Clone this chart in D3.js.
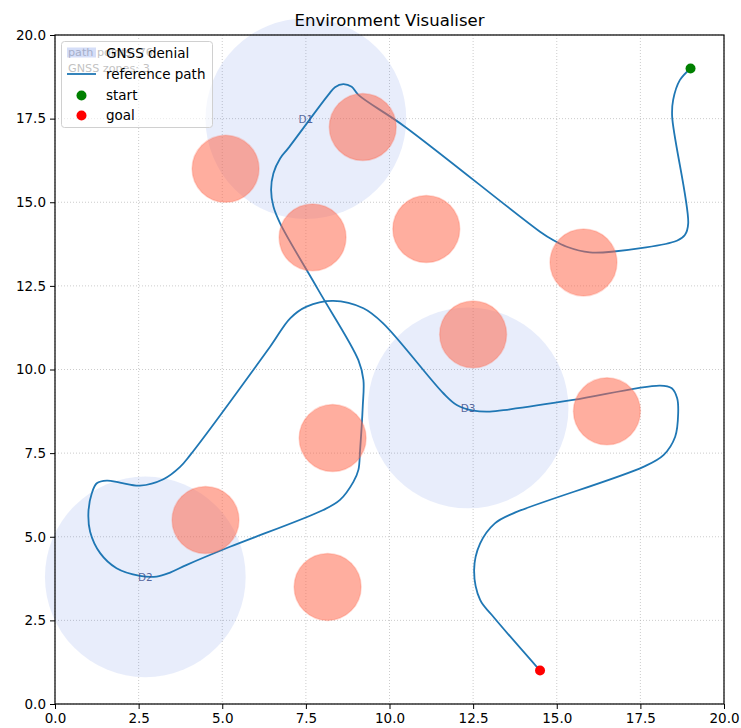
<!DOCTYPE html>
<html lang="en">
<head>
<meta charset="utf-8">
<title>Environment Visualiser</title>
<script src="https://d3js.org/d3.v7.min.js"></script>
<style>
  body { margin: 0; background: #fff; }
  text { font-family: "DejaVu Sans", sans-serif; }
</style>
</head>
<body>
<script>
// obstacles (radius 1)
var obstacleX = [9.2, 5.1, 7.7, 11.1, 15.8, 12.5, 16.5, 8.3, 4.5, 8.15];
var obstacleY = [17.25, 16.0, 13.95, 14.2, 13.2, 11.05, 8.75, 7.95, 5.5, 3.5];
var obstacleR = [1, 1, 1, 1, 1, 1, 1, 1, 1, 1];

// GNSS denial zones
var zoneNames = ["D1", "D2", "D3"];
var zoneX = [7.5, 2.7, 12.35];
var zoneY = [17.5, 3.8, 8.85];
var zoneR = [3, 3, 3];

var start = [19, 19];
var goal = [14.5, 1.0];

// reference path
var pathX = [19.0, 18.68, 18.48, 18.45, 18.93, 18.83, 18.59, 16.64, 15.99, 15.30, 14.89, 14.50,
  10.46, 9.07, 8.87, 8.62, 8.37, 8.17, 6.97, 6.73, 6.53, 6.46, 6.53, 6.73, 7.87, 9.07, 9.22,
  9.20, 9.12, 9.07, 8.92, 8.52, 8.02, 5.23, 3.94, 3.44, 3.04, 2.54, 1.84, 1.35, 1.05, 1.00,
  1.10, 1.25, 1.55, 1.94, 2.54, 3.24, 3.74, 4.04, 6.43, 7.03, 7.52, 8.32, 9.22, 9.81, 11.61,
  12.01, 12.51, 13.00, 13.60, 15.49, 18.09, 18.44, 18.60, 18.63, 18.54, 18.19, 17.59, 13.70,
  13.15, 12.71, 12.53, 12.71, 13.06, 14.50];
var pathY = [19.0, 18.65, 18.06, 17.56, 14.37, 14.02, 13.85, 13.52, 13.50, 13.67, 13.87, 14.12,
  17.26, 18.21, 18.45, 18.53, 18.44, 18.21, 16.61, 16.31, 15.87, 15.37, 14.87, 14.37, 12.38,
  10.28, 9.69, 8.89, 7.59, 7.00, 6.64, 6.10, 5.80, 4.70, 4.16, 3.93, 3.81, 3.83, 4.06, 4.51,
  5.15, 5.75, 6.30, 6.60, 6.68, 6.62, 6.53, 6.72, 7.09, 7.44, 10.68, 11.53, 11.88, 12.05, 11.83,
  11.38, 9.29, 8.94, 8.77, 8.74, 8.81, 9.09, 9.52, 9.44, 9.14, 8.69, 7.99, 7.44, 7.09, 5.70,
  5.40, 4.80, 4.01, 3.11, 2.66, 1.0];

var ticks = [0, 2.5, 5, 7.5, 10, 12.5, 15, 17.5, 20];

var W = 741, H = 728;
var axL = 55, axR = 724, axT = 35, axB = 704;

var svg = d3.select("body").append("svg")
    .attr("width", W).attr("height", H);

var x = d3.scaleLinear().domain([0, 20]).range([axL, axR]);
var y = d3.scaleLinear().domain([0, 20]).range([axB, axT]);

// grid
var grid = svg.append("g");
grid.selectAll(".gx").data(ticks).join("line")
    .attr("x1", d => x(d)).attr("x2", d => x(d))
    .attr("y1", axT).attr("y2", axB)
    .attr("stroke", "#b0b0b0").attr("stroke-width", 0.8)
    .attr("stroke-dasharray", "1,2").attr("opacity", 0.8);
grid.selectAll(".gy").data(ticks).join("line")
    .attr("y1", d => y(d)).attr("y2", d => y(d))
    .attr("x1", axL).attr("x2", axR)
    .attr("stroke", "#b0b0b0").attr("stroke-width", 0.8)
    .attr("stroke-dasharray", "1,2").attr("opacity", 0.8);

// zones
var zones = zoneNames.map((n, i) => ({name: n, x: zoneX[i], y: zoneY[i], r: zoneR[i]}));
svg.append("g").selectAll("circle").data(zones).join("circle")
    .attr("cx", d => x(d.x)).attr("cy", d => y(d.y))
    .attr("r", d => x(d.r) - x(0))
    .attr("fill", "#4169e1").attr("fill-opacity", 0.12);

// path
var pts = pathX.map((v, i) => [v, pathY[i]]);
var line = d3.line().x(d => x(d[0])).y(d => y(d[1]))
    .curve(d3.curveCatmullRom.alpha(0.5));
svg.append("path").datum(pts)
    .attr("d", line)
    .attr("fill", "none")
    .attr("stroke", "#1f77b4")
    .attr("stroke-width", 1.8);

// obstacles
var obs = obstacleX.map((v, i) => ({x: v, y: obstacleY[i], r: obstacleR[i]}));
svg.append("g").selectAll("circle").data(obs).join("circle")
    .attr("cx", d => x(d.x)).attr("cy", d => y(d.y))
    .attr("r", d => x(d.r) - x(0))
    .attr("fill", "#ff6347").attr("fill-opacity", 0.52)
    .attr("stroke", "#ff6347").attr("stroke-opacity", 0.25).attr("stroke-width", 1.5);

// zone labels
svg.append("g").selectAll("text").data(zones).join("text")
    .attr("x", d => x(d.x)).attr("y", d => y(d.y))
    .attr("text-anchor", "middle").attr("dominant-baseline", "central")
    .attr("font-size", 10.5).attr("fill", "#3b4f8c").attr("fill-opacity", 0.85)
    .text(d => d.name);

// start / goal
svg.append("circle").attr("cx", x(start[0])).attr("cy", y(start[1])).attr("r", 5)
    .attr("fill", "green");
svg.append("circle").attr("cx", x(goal[0])).attr("cy", y(goal[1])).attr("r", 5)
    .attr("fill", "red");

// axes
svg.append("g").attr("transform", `translate(0,${axB})`)
    .call(d3.axisBottom(x).tickValues(ticks).tickFormat(d3.format(".1f")).tickSizeOuter(0).tickSize(5).tickPadding(4))
    .call(g => g.selectAll("text").attr("font-size", 13.5).attr("font-family", "DejaVu Sans").attr("fill", "#000"))
    .call(g => g.select(".domain").remove());
svg.append("g").attr("transform", `translate(${axL},0)`)
    .call(d3.axisLeft(y).tickValues(ticks).tickFormat(d3.format(".1f")).tickSizeOuter(0).tickSize(5).tickPadding(4))
    .call(g => g.selectAll("text").attr("font-size", 13.5).attr("font-family", "DejaVu Sans").attr("fill", "#000"))
    .call(g => g.select(".domain").remove());
svg.append("rect").attr("x", axL).attr("y", axT)
    .attr("width", axR - axL).attr("height", axB - axT)
    .attr("fill", "none").attr("stroke", "#000").attr("stroke-width", 1.2);

// title
svg.append("text").attr("x", (axL + axR) / 2).attr("y", 26)
    .attr("text-anchor", "middle").attr("font-size", 16.5)
    .text("Environment Visualiser");

// info text (behind the legend)
var info = svg.append("g").attr("font-size", 11.2).attr("fill", "#666");
info.append("text").attr("x", 68).attr("y", 56).text("path points: 76");
info.append("text").attr("x", 68).attr("y", 72).text("GNSS zones: 3");

// legend
var lg = svg.append("g");
lg.append("rect").attr("x", 61.5).attr("y", 41.5).attr("width", 151).attr("height", 86)
    .attr("rx", 3).attr("fill", "#fff").attr("fill-opacity", 0.6)
    .attr("stroke", "#d0d0d0").attr("stroke-width", 1);
lg.append("rect").attr("x", 67).attr("y", 47.5).attr("width", 29).attr("height", 10)
    .attr("fill", "#4169e1").attr("fill-opacity", 0.22);
lg.append("line").attr("x1", 67).attr("x2", 96).attr("y1", 74).attr("y2", 74)
    .attr("stroke", "#1f77b4").attr("stroke-width", 1.8);
lg.append("circle").attr("cx", 81.5).attr("cy", 95.5).attr("r", 5).attr("fill", "green");
lg.append("circle").attr("cx", 81.5).attr("cy", 115.5).attr("r", 5).attr("fill", "red");
var labels = ["GNSS denial", "reference path", "start", "goal"];
var labelY = [52.5, 74, 95, 115];
lg.selectAll(".lt").data(labels).join("text")
    .attr("x", 106).attr("y", (d, i) => labelY[i])
    .attr("dominant-baseline", "central")
    .attr("font-size", 13.5).attr("fill", "#000")
    .text(d => d);
</script>
</body>
</html>
